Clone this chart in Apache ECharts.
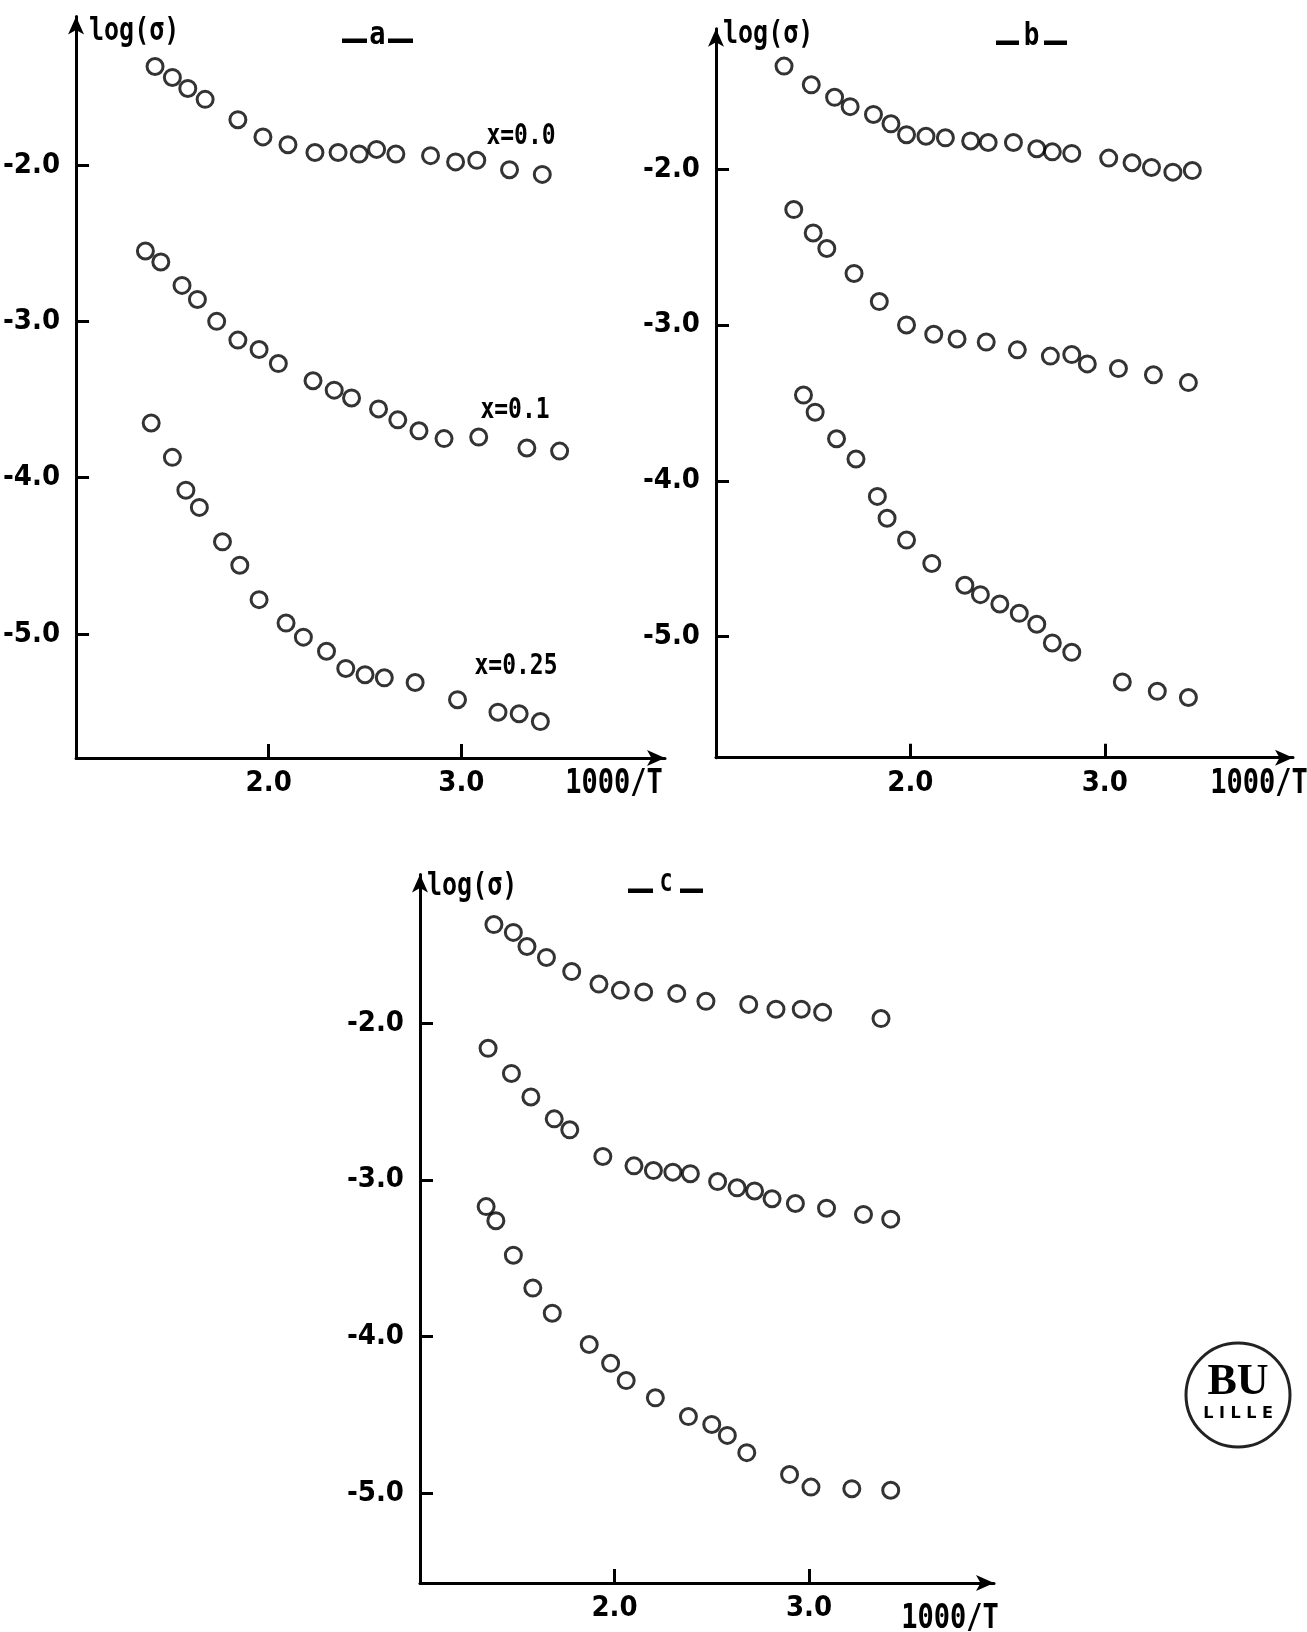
<!DOCTYPE html>
<html><head><meta charset="utf-8">
<script src="https://cdn.jsdelivr.net/npm/echarts@6/dist/echarts.min.js"></script>
<style>html,body{margin:0;padding:0;background:#fff}#c{width:1307px;height:1632px}</style>
</head><body><div id="c"></div><script>
// ---- data (1000/T, log sigma) ----
const xTickValues = [2, 3];
const yTickValues = [-2, -3, -4, -5];

const panelA_x00 = [[1.41,-1.37],[1.50,-1.44],[1.58,-1.51],[1.67,-1.58],[1.84,-1.71],[1.97,-1.82],[2.10,-1.87],[2.24,-1.92],[2.36,-1.92],[2.47,-1.93],[2.56,-1.90],[2.66,-1.93],[2.84,-1.94],[2.97,-1.98],[3.08,-1.97],[3.25,-2.03],[3.42,-2.06]];
const panelA_x01 = [[1.36,-2.55],[1.44,-2.62],[1.55,-2.77],[1.63,-2.86],[1.73,-3.00],[1.84,-3.12],[1.95,-3.18],[2.05,-3.27],[2.23,-3.38],[2.34,-3.44],[2.43,-3.49],[2.57,-3.56],[2.67,-3.63],[2.78,-3.70],[2.91,-3.75],[3.09,-3.74],[3.34,-3.81],[3.51,-3.83]];
const panelA_x025 = [[1.39,-3.65],[1.50,-3.87],[1.57,-4.08],[1.64,-4.19],[1.76,-4.41],[1.85,-4.56],[1.95,-4.78],[2.09,-4.93],[2.18,-5.02],[2.30,-5.11],[2.40,-5.22],[2.50,-5.26],[2.60,-5.28],[2.76,-5.31],[2.98,-5.42],[3.19,-5.50],[3.30,-5.51],[3.41,-5.56]];

const panelB_top = [[1.35,-1.34],[1.49,-1.46],[1.61,-1.54],[1.69,-1.60],[1.81,-1.65],[1.90,-1.71],[1.98,-1.78],[2.08,-1.79],[2.18,-1.80],[2.31,-1.82],[2.40,-1.83],[2.53,-1.83],[2.65,-1.87],[2.73,-1.89],[2.83,-1.90],[3.02,-1.93],[3.14,-1.96],[3.24,-1.99],[3.35,-2.02],[3.45,-2.01]];
const panelB_mid = [[1.40,-2.26],[1.50,-2.41],[1.57,-2.51],[1.71,-2.67],[1.84,-2.85],[1.98,-3.00],[2.12,-3.06],[2.24,-3.09],[2.39,-3.11],[2.55,-3.16],[2.72,-3.20],[2.83,-3.19],[2.91,-3.25],[3.07,-3.28],[3.25,-3.32],[3.43,-3.37]];
const panelB_bot = [[1.45,-3.45],[1.51,-3.56],[1.62,-3.73],[1.72,-3.86],[1.83,-4.10],[1.88,-4.24],[1.98,-4.38],[2.11,-4.53],[2.28,-4.67],[2.36,-4.73],[2.46,-4.79],[2.56,-4.85],[2.65,-4.92],[2.73,-5.04],[2.83,-5.10],[3.09,-5.29],[3.27,-5.35],[3.43,-5.39]];

const panelC_top = [[1.38,-1.37],[1.48,-1.42],[1.55,-1.51],[1.65,-1.58],[1.78,-1.67],[1.92,-1.75],[2.03,-1.79],[2.15,-1.80],[2.32,-1.81],[2.47,-1.86],[2.69,-1.88],[2.83,-1.91],[2.96,-1.91],[3.07,-1.93],[3.37,-1.97]];
const panelC_mid = [[1.35,-2.16],[1.47,-2.32],[1.57,-2.47],[1.69,-2.61],[1.77,-2.68],[1.94,-2.85],[2.10,-2.91],[2.20,-2.94],[2.30,-2.95],[2.39,-2.96],[2.53,-3.01],[2.63,-3.05],[2.72,-3.07],[2.81,-3.12],[2.93,-3.15],[3.09,-3.18],[3.28,-3.22],[3.42,-3.25]];
const panelC_bot = [[1.34,-3.17],[1.39,-3.26],[1.48,-3.48],[1.58,-3.69],[1.68,-3.85],[1.87,-4.05],[1.98,-4.17],[2.06,-4.28],[2.21,-4.39],[2.38,-4.51],[2.50,-4.56],[2.58,-4.63],[2.68,-4.74],[2.90,-4.88],[3.01,-4.96],[3.22,-4.97],[3.42,-4.98]];

const seriesLabelsA = ['x=0.0', 'x=0.1', 'x=0.25'];
const panelTitles = ['a', 'b', 'C'];

// ---- styling / layout ----
const INK = '#000';
const tickFont = "'Liberation Sans Narrow','DejaVu Sans Condensed','Roboto Condensed','DejaVu Sans',sans-serif";
const monoFont = "'DejaVu Sans Mono','Liberation Mono',monospace";

const grids = [
  {left:72,  top:16.5,  width:593, height:741.5},
  {left:716, top:28.7,  width:577, height:729},
  {left:420, top:874.4, width:574, height:708.6}
];
const xRanges = [[1, 4.057], [1, 3.968], [1, 3.951]];
const yRanges = [[-5.793, -1.05], [-5.776, -1.1], [-5.572, -1.05]];

function axisLineStyle(){
  return {show:true, lineStyle:{color:INK, width:3}, symbol:['none','arrow'], symbolSize:[12,18]};
}
const xAxes = grids.map((g,i)=>({
  type:'value', gridIndex:i, min:xRanges[i][0], max:xRanges[i][1],
  axisLine:axisLineStyle(),
  axisTick:{show:true, inside:true, length:14, lineStyle:{color:INK, width:3}, customValues:xTickValues},
  axisLabel:{show:true, customValues:xTickValues, formatter:v=>v.toFixed(1), color:INK,
    fontSize:29, fontWeight:'bold', fontFamily:tickFont, margin:11},
  splitLine:{show:false}
}));
const yAxes = grids.map((g,i)=>({
  type:'value', gridIndex:i, min:yRanges[i][0], max:yRanges[i][1],
  axisLine:axisLineStyle(),
  axisTick:{show:true, inside:true, length:13, lineStyle:{color:INK, width:3}, customValues:yTickValues},
  axisLabel:{show:true, customValues:yTickValues, formatter:v=>v.toFixed(1), color:INK,
    fontSize:29, fontWeight:'bold', fontFamily:tickFont, margin:16},
  splitLine:{show:false}
}));

function sc(data, gi){
  return {type:'scatter', xAxisIndex:gi, yAxisIndex:gi, data:data, symbol:'circle', symbolSize:16,
    itemStyle:{color:'rgba(0,0,0,0)', borderColor:INK, borderWidth:3}, silent:true};
}
const series = [
  sc(panelA_x00,0), sc(panelA_x01,0), sc(panelA_x025,0),
  sc(panelB_top,1), sc(panelB_mid,1), sc(panelB_bot,1),
  sc(panelC_top,2), sc(panelC_mid,2), sc(panelC_bot,2)
];

function txt(x,y,t,size,font,opts){
  opts = opts || {};
  return {type:'text', x:x, y:y, scaleY:opts.sy || 1,
    style:{text:t, fill:INK, font:(opts.weight||'bold')+' '+size+'px '+font,
    textAlign:opts.align||'left', textVerticalAlign:opts.valign||'middle'}};
}
function dash(x,y,w){ return {type:'rect', shape:{x:x, y:y, width:w, height:4.5}, style:{fill:INK}}; }

const graphic = [
  // y-axis names
  txt(89, 32, 'log(σ)', 25, monoFont, {sy:1.3}),
  txt(723, 35, 'log(σ)', 25, monoFont, {sy:1.3}),
  txt(427, 887, 'log(σ)', 25, monoFont, {sy:1.3}),
  // x-axis names
  txt(614, 784, '1000/T', 27, monoFont, {align:'center', sy:1.25}),
  txt(1259, 784, '1000/T', 27, monoFont, {align:'center', sy:1.25}),
  txt(950, 1619, '1000/T', 27, monoFont, {align:'center', sy:1.25}),
  // panel titles
  dash(342,38.5,25), txt(377.5, 36, panelTitles[0], 27, monoFont, {align:'center', sy:1.2}), dash(388,38.5,25),
  dash(996,40.5,23), txt(1031.5, 37, panelTitles[1], 26, monoFont, {align:'center', sy:1.2}), dash(1044,40.5,23),
  dash(628,888.5,25), txt(666, 885, panelTitles[2], 21, monoFont, {align:'center', sy:1.15}), dash(680,888.5,23),
  // series labels in panel a
  txt(521, 137, seriesLabelsA[0], 23, monoFont, {align:'center', sy:1.25}),
  txt(515, 411, seriesLabelsA[1], 23, monoFont, {align:'center', sy:1.25}),
  txt(516, 667, seriesLabelsA[2], 23, monoFont, {align:'center', sy:1.25}),
  // library stamp
  {type:'circle', shape:{cx:1238, cy:1395, r:52}, style:{fill:'none', stroke:'#222', lineWidth:3}},
  txt(1238, 1383, 'BU', 44, "'Liberation Serif','DejaVu Serif',serif", {align:'center', weight:'bold'}),
  txt(1238, 1414, 'L I L L E', 16, "'DejaVu Sans','Liberation Sans',sans-serif", {align:'center'})
];

const chart = echarts.init(document.getElementById('c'), null, {renderer:'canvas'});
chart.setOption({
  backgroundColor:'#fff',
  animation:false,
  grid:grids,
  xAxis:xAxes,
  yAxis:yAxes,
  series:series,
  graphic:graphic
});
</script></body></html>
